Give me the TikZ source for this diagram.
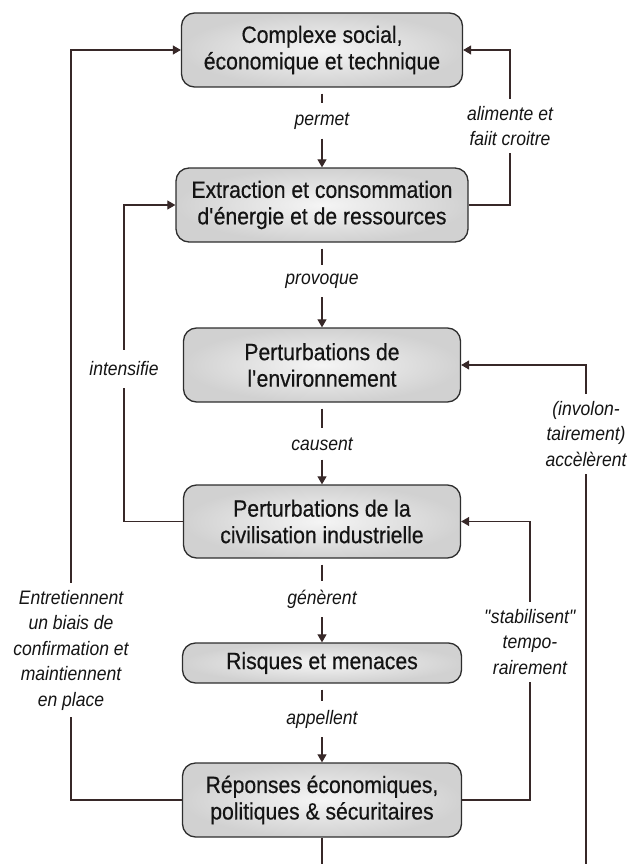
\documentclass[tikz,border=0pt]{standalone}
\usepackage{fontspec}
\setmainfont{Liberation Sans}[FakeStretch=0.9]
\newfontfamily\boxfont{Liberation Sans}[FakeStretch=0.9, FakeBold=0.5]
\usetikzlibrary{arrows.meta}
\definecolor{ln}{RGB}{55,40,40}
\definecolor{tx}{RGB}{20,20,20}
\begin{document}
\begin{tikzpicture}[x=1pt,y=1pt,
  box/.style={draw=black!82, line width=1.3pt, rounded corners=13pt,
    shading=radial, inner color=gray!8, outer color=gray!36,
    text=tx, align=center, inner sep=0pt,
    font=\boxfont\fontsize{23.5}{26.5}\selectfont},
  lbl/.style={font=\itshape\fontsize{19.5}{25.5}\selectfont, align=center,
    text=tx, inner xsep=1pt, inner ysep=7pt},
  vlbl/.style={lbl, inner ysep=9pt},
  con/.style={draw=ln, line width=1.1pt},
  arr/.style={con, -{Triangle[length=8pt,width=9pt]}}
]
\useasboundingbox (0,0) rectangle (632,-864);
\clip (0,0) rectangle (632,-864);

% boxes
\node[box, minimum width=281pt, minimum height=74pt] (b1) at (322,-50)
  {Complexe social,\\économique et technique};
\node[box, minimum width=292pt, minimum height=74pt] (b2) at (322,-205)
  {Extraction et consommation\\d\textquotesingle énergie et de ressources};
\node[box, minimum width=277pt, minimum height=74pt] (b3) at (322,-365)
  {Perturbations de\\l\textquotesingle environnement};
\node[box, minimum width=277pt, minimum height=73pt] (b4) at (322,-521.5)
  {Perturbations de la\\civilisation industrielle};
\node[box, minimum width=279pt, minimum height=40pt] (b5) at (322,-663)
  {Risques et menaces};
\node[box, minimum width=279pt, minimum height=74pt] (b6) at (322,-800)
  {Réponses économiques,\\politiques \& sécuritaires};

% central labels
\node[vlbl] (l1) at (322,-121) {permet};
\node[vlbl] (l2) at (322,-281) {provoque};
\node[vlbl] (l3) at (322,-444) {causent};
\node[vlbl] (l4) at (322,-599) {génèrent};
\node[vlbl] (l5) at (322,-719) {appellent};

% side labels
\node[lbl] (la) at (71,-650)
  {Entretiennent\\un biais de\\confirmation et\\maintiennent\\en place};
\node[lbl, inner ysep=12pt] (lb) at (124,-369) {intensifie};
\node[lbl] (lc) at (510,-126) {alimente et\\faiit croitre};
\node[lbl] (ld) at (530,-642)
  {\textquotedbl stabilisent\textquotedbl\\tempo-\\rairement};
\node[lbl] (le) at (586,-434) {(involon-\\tairement)\\accèlèrent};

\coordinate (bl) at (322,-885);

% central arrows
\draw[con, shorten <=6pt] (b1) -- (l1);
\draw[arr] (l1) -- (b2);
\draw[con, shorten <=6pt] (b2) -- (l2);
\draw[arr] (l2) -- (b3);
\draw[con, shorten <=6pt] (b3) -- (l3);
\draw[arr] (l3) -- (b4);
\draw[con, shorten <=6pt] (b4) -- (l4);
\draw[arr] (l4) -- (b5);
\draw[con, shorten <=6pt] (b5) -- (l5);
\draw[arr] (l5) -- (b6);

% feedback loops
\draw[con] (b6.west) -| (la);
\draw[arr] (la) |- (b1.west);
\draw[con] (b4.west) -| (lb);
\draw[arr] (lb) |- (b2.west);
\draw[con] (b2.east) -| (lc);
\draw[arr] (lc) |- (b1.east);
\draw[con] (b6.east) -| (ld);
\draw[arr] (ld) |- (b4.east);
\draw[con] (b6.south) -- (bl) -| (le);
\draw[arr] (le) |- (b3.east);
\end{tikzpicture}
\end{document}
